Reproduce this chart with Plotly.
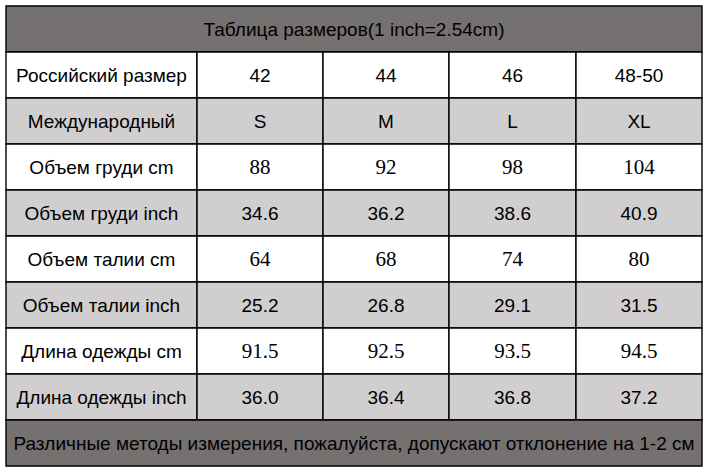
import plotly.graph_objects as go

# table content
title = "Таблица размеров(1 inch=2.54cm)"
note = "Различные методы измерения, пожалуйста, допускают отклонение на 1-2 см"
row_labels = ["Российский размер", "Международный", "Объем груди cm", "Объем груди inch",
              "Объем талии cm", "Объем талии inch", "Длина одежды cm", "Длина одежды inch"]
size_ru = ["42", "44", "46", "48-50"]
size_int = ["S", "M", "L", "XL"]
chest_cm = [88, 92, 98, 104]
chest_inch = [34.6, 36.2, 38.6, 40.9]
waist_cm = [64, 68, 74, 80]
waist_inch = [25.2, 26.8, 29.1, 31.5]
length_cm = [91.5, 92.5, 93.5, 94.5]
length_inch = [36.0, 36.4, 36.8, 37.2]

rows = [
    [str(v) for v in size_ru],
    [str(v) for v in size_int],
    [str(v) for v in chest_cm],
    ["%.1f" % v for v in chest_inch],
    [str(v) for v in waist_cm],
    ["%.1f" % v for v in waist_inch],
    ["%.1f" % v for v in length_cm],
    ["%.1f" % v for v in length_inch],
]
serif_rows = [2, 4, 6]  # cm rows are set in Times

# geometry (pixels)
W, H = 709, 472
left, top = 6, 6
col_w = [191, 126, 126, 127, 126]
row_h = 46
dy = 2  # nudge text down a bit
dark = "#767171"
light = "#d0cece"
sans = "Liberation Sans, Arial"
serif = "Liberation Serif, Times New Roman"
fs = 19

col_x = [left]
for w in col_w:
    col_x.append(col_x[-1] + w)
right = col_x[-1]
n_rows = len(rows) + 2
row_y = [top + i * row_h for i in range(n_rows + 1)]

fig = go.Figure()
shapes = []

def cell(x0, x1, y0, y1, fill):
    shapes.append(dict(type="rect", xref="x", yref="y", x0=x0, x1=x1, y0=y0, y1=y1,
                       fillcolor=fill, line=dict(color="black", width=1.4), layer="below"))

# title row
cell(left, right, row_y[0], row_y[1], dark)
fig.add_trace(go.Scatter(x=[(left + right) / 2], y=[(row_y[0] + row_y[1]) / 2 + dy],
                         mode="text", text=[title],
                         textfont=dict(family=sans, size=fs, color="black")))

for r, vals in enumerate(rows):
    y0, y1 = row_y[r + 1], row_y[r + 2]
    fill = light if r % 2 == 1 else "white"
    for c in range(5):
        cell(col_x[c], col_x[c + 1], y0, y1, fill)
    yc = (y0 + y1) / 2 + dy
    fig.add_trace(go.Scatter(x=[(col_x[0] + col_x[1]) / 2], y=[yc], mode="text",
                             text=[row_labels[r]],
                             textfont=dict(family=sans, size=fs, color="black")))
    fam = serif if r in serif_rows else sans
    sz = 21 if r in serif_rows else fs
    fig.add_trace(go.Scatter(x=[(col_x[c] + col_x[c + 1]) / 2 for c in range(1, 5)],
                             y=[yc] * 4, mode="text", text=vals,
                             textfont=dict(family=fam, size=sz, color="black")))

# note row
cell(left, right, row_y[-2], row_y[-1], dark)
fig.add_trace(go.Scatter(x=[(left + right) / 2], y=[(row_y[-2] + row_y[-1]) / 2 + dy],
                         mode="text", text=[note],
                         textfont=dict(family=sans, size=fs, color="black")))

fig.update_layout(
    width=W, height=H,
    margin=dict(l=0, r=0, t=0, b=0),
    paper_bgcolor="white", plot_bgcolor="white",
    showlegend=False, hovermode=False,
    shapes=shapes,
    xaxis=dict(range=[0, W], visible=False, fixedrange=True),
    yaxis=dict(range=[H, 0], visible=False, fixedrange=True),
)

fig.write_html("out.html", config={"displayModeBar": False},
               post_script="document.body.style.margin='0';document.body.style.overflow='hidden';")
